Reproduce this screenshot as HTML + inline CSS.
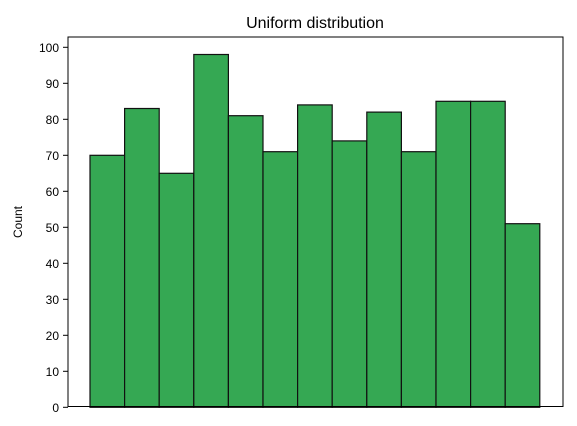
<!DOCTYPE html>
<html><head><meta charset="utf-8"><style>
body{margin:0;background:#fff;}
svg{display:block;font-family:"Liberation Sans","DejaVu Sans",sans-serif;}
</style></head><body>
<svg id="chart" width="577" height="426">
<text x="315" y="28" font-size="16" text-anchor="middle">Uniform distribution</text>
<text transform="translate(22,222) rotate(-90)" font-size="12" text-anchor="middle">Count</text>
<g id="bars"></g><g id="yaxis"></g>
<rect x="68" y="37" width="495" height="369.5" fill="none" stroke="#000" stroke-width="1"/>
</svg>
<script>
const counts=[70,83,65,98,81,71,84,74,82,71,85,85,51];
const yTicks=[0,10,20,30,40,50,60,70,80,90,100];
const NS="http://www.w3.org/2000/svg";
const y0=407.3, pxPer=3.6, x0=90, bw=34.6;
function y(v){return y0-v*pxPer;}
function x(i){return x0+i*bw;}
const bars=document.getElementById('bars');
counts.forEach((c,i)=>{
 const r=document.createElementNS(NS,'rect');
 r.setAttribute('x',x(i));r.setAttribute('y',y(c));
 r.setAttribute('width',bw);r.setAttribute('height',y0-y(c));
 r.setAttribute('fill','#35a853');r.setAttribute('stroke','#111');r.setAttribute('stroke-width','1.2');
 
 
 bars.appendChild(r);
});
const ya=document.getElementById('yaxis');
yTicks.forEach(t=>{
 const l=document.createElementNS(NS,'line');
 l.setAttribute('x1',63);l.setAttribute('x2',68);l.setAttribute('y1',y(t));l.setAttribute('y2',y(t));l.setAttribute('stroke','#000');
 
 
 ya.appendChild(l);
 const tx=document.createElementNS(NS,'text');
 tx.setAttribute('x',59);tx.setAttribute('y',y(t)+4.5);tx.setAttribute('font-size','12');tx.setAttribute('text-anchor','end');
 tx.textContent=t;
 
 
 ya.appendChild(tx);
});
</script>
</body></html>
